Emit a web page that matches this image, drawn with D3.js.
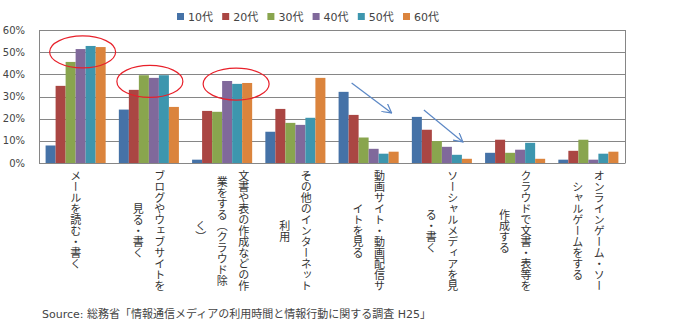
<!DOCTYPE html>
<html><head><meta charset="utf-8">
<script src="https://cdn.jsdelivr.net/npm/d3@7"></script>
<style>
html,body{margin:0;padding:0;background:#fff;}
svg{display:block;}
</style>
</head><body>
<svg id="chart" width="700" height="332"></svg>
<script>
const categories = ["メール","ブログ","文書","その他","動画","ソーシャル","クラウド","ゲーム"];
const categoryLabels = [
  ["メールを読む・書く"],
  ["ブログやウェブサイトを","見る・書く"],
  ["文書や表の作成などの作","業をする（クラウド除","く）"],
  ["その他のインターネット","利用"],
  ["動画サイト・動画配信サ","イトを見る"],
  ["ソーシャルメディアを見","る・書く"],
  ["クラウドで文書・表等を","作成する"],
  ["オンラインゲーム・ソー","シャルゲームをする"]
];
const seriesNames = ["10代","20代","30代","40代","50代","60代"];
const s10 = [7.9, 24.1, 1.5, 14.1, 32.1, 20.8, 4.6, 1.5];
const s20 = [34.8, 33.0, 23.5, 24.4, 21.7, 15.0, 10.5, 5.5];
const s30 = [45.6, 39.6, 23.1, 18.1, 11.5, 9.9, 4.6, 10.5];
const s40 = [51.4, 38.4, 37.0, 17.2, 6.4, 7.3, 6.0, 1.5];
const s50 = [52.8, 39.6, 35.7, 20.4, 4.2, 3.7, 9.1, 4.2];
const s60 = [52.3, 25.3, 36.1, 38.4, 5.1, 1.9, 1.9, 5.1];
const seriesValues = [s10, s20, s30, s40, s50, s60];
const colors = ["#4572A7","#AA4643","#89A54E","#80699B","#3D96AE","#DB843D"];
const yTicks = [0,10,20,30,40,50,60];
const sourceText = "Source: 総務省「情報通信メディアの利用時間と情報行動に関する調査 H25」";
// annotations: [category index, x offset in px from group centre, centre value]
const ellipses = [[0, 7, 50.1],[1, 1, 36.8],[2, 14, 35.6]];
// arrows: [category index, dx1, v1, dx2, v2]
const arrows = [[4, -17, 36.1, 23, 22.6],[5, -18, 23.9, 21, 9.5]];

(function(){
const svg = d3.select("#chart");
const pLeft = 39, pRight = 625, pTop = 30, pBottom = 163;

const x0 = d3.scaleBand().domain(categories).range([pLeft, pRight]).paddingInner(0.18).paddingOuter(0.09);
const x1 = d3.scaleBand().domain(seriesNames).range([0, x0.bandwidth()]).padding(0);
const y = d3.scaleLinear().domain([0, 60]).range([pBottom, pTop]);

// gridlines
svg.append("g").selectAll("line").data(yTicks).join("line")
  .attr("x1", pLeft).attr("x2", pRight)
  .attr("y1", d => Math.round(y(d)) + 0.5).attr("y2", d => Math.round(y(d)) + 0.5)
  .attr("stroke", "#868686").attr("stroke-width", 1);
// border
svg.append("line").attr("x1", pLeft + 0.5).attr("x2", pLeft + 0.5).attr("y1", pTop).attr("y2", pBottom + 0.5).attr("stroke", "#868686");
svg.append("line").attr("x1", pRight + 0.5).attr("x2", pRight + 0.5).attr("y1", pTop).attr("y2", pBottom + 0.5).attr("stroke", "#868686");

// y tick labels
svg.append("g").selectAll("text").data(yTicks).join("text")
  .attr("x", 25).attr("y", d => y(d)).attr("dy", "0.35em")
  .attr("text-anchor", "end")
  .attr("font-family", "'DejaVu Sans', Verdana, sans-serif").attr("font-size", 10)
  .attr("fill", "#444")
  .text(d => d + "%");

// bars
const groups = svg.append("g").selectAll("g").data(categories).join("g")
  .attr("transform", d => `translate(${x0(d)},0)`);
groups.selectAll("rect").data((d, i) => seriesNames.map((s, j) => ({s, v: seriesValues[j][i], j})))
  .join("rect")
  .attr("x", d => x1(d.s)).attr("width", x1.bandwidth())
  .attr("y", d => y(d.v)).attr("height", d => y(0) - y(d.v))
  .attr("fill", d => colors[d.j]);

// category labels (vertical)
const charH = 11.1, colGap = 21.5, labelTop = 170;
categories.forEach((c, i) => {
  const lines = categoryLabels[i];
  const cx = x0(c) + x0.bandwidth() / 2;
  const maxLen = d3.max(lines, l => l.length);
  const cy = labelTop + maxLen * charH / 2;
  const n = lines.length;
  lines.forEach((line, k) => {
    svg.append("text")
      .attr("x", cx + ((n - 1) / 2 - k) * colGap)
      .attr("y", cy)
      .attr("text-anchor", "middle")
      .style("writing-mode", "vertical-rl")
      .attr("font-family", "'Noto Sans CJK JP', sans-serif")
      .attr("font-size", 11)
      .attr("fill", "#333")
      .text(line);
  });
});

// legend
const legend = svg.append("g").selectAll("g").data(seriesNames).join("g")
  .attr("transform", (d, i) => `translate(${177 + i * 45.2},0)`);
legend.append("rect").attr("x", 0).attr("y", 13).attr("width", 7).attr("height", 7).attr("fill", (d, i) => colors[i]);
legend.append("text").attr("x", 11).attr("y", 20.5)
  .attr("font-family", "'DejaVu Sans', 'Noto Sans CJK JP', sans-serif").attr("font-size", 11)
  .attr("fill", "#444").text(d => d);

// ellipses
svg.append("g").selectAll("ellipse").data(ellipses).join("ellipse")
  .attr("cx", d => x0(categories[d[0]]) + x0.bandwidth() / 2 + d[1])
  .attr("cy", d => y(d[2]))
  .attr("rx", 33).attr("ry", 16)
  .attr("fill", "none").attr("stroke", "#E8202A").attr("stroke-width", 1.2);

// arrows
svg.append("defs").append("marker").attr("id", "arr")
  .attr("viewBox", "0 0 10 10").attr("refX", 9).attr("refY", 5)
  .attr("markerWidth", 10).attr("markerHeight", 10).attr("markerUnits", "userSpaceOnUse")
  .attr("orient", "auto")
  .append("path").attr("d", "M0,0 L9,5 L0,10").attr("fill", "none").attr("stroke", "#5B87C5").attr("stroke-width", 1.2);
svg.append("g").selectAll("line").data(arrows).join("line")
  .attr("x1", d => x0(categories[d[0]]) + x0.bandwidth() / 2 + d[1])
  .attr("y1", d => y(d[2]))
  .attr("x2", d => x0(categories[d[0]]) + x0.bandwidth() / 2 + d[3])
  .attr("y2", d => y(d[4]))
  .attr("stroke", "#5B87C5").attr("stroke-width", 1.2)
  .attr("marker-end", "url(#arr)");

// source
svg.append("text").attr("x", 42).attr("y", 318)
  .attr("font-family", "'DejaVu Sans', 'Noto Sans CJK JP', sans-serif").attr("font-size", 11)
  .attr("fill", "#444").text(sourceText);
})();
</script>
</body></html>
